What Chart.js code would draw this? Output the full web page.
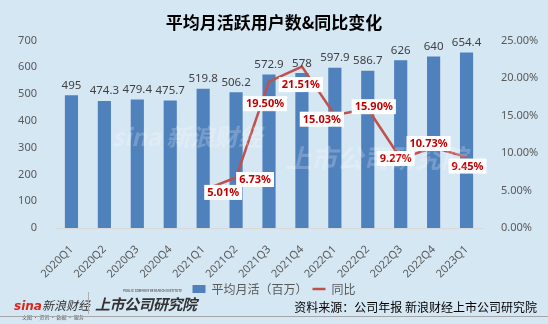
<!DOCTYPE html>
<html>
<head>
<meta charset="utf-8">
<script src="https://cdn.jsdelivr.net/npm/chart.js@4.4.0/dist/chart.umd.min.js"></script>
<style>
  html, body { margin: 0; padding: 0; }
  body { width: 548px; height: 324px; background: #d6e7f4; position: relative; overflow: hidden; font-family: "Noto Sans CJK SC", "Noto Sans", sans-serif; }
  #wrap { position: absolute; left: 0; top: 0; width: 548px; height: 324px; }
  .wm { position: absolute; color: rgba(255,255,255,0.22); font-weight: bold; font-style: italic; pointer-events: none; }
  #foot-line { position: absolute; left: 0; top: 316px; width: 548px; height: 1px; background: #a6a6a6; }
  #src { position: absolute; right: 11px; top: 298px; font-size: 12px; color: #000; }
  #sina { position: absolute; left: 14px; top: 291px; }
  #sina .s { color: #d9261c; font-weight: bold; font-style: italic; font-size: 12px; font-family: "DejaVu Sans", sans-serif; }
  #sina .n { color: #333; font-size: 12px; font-style: italic; }
  #sina .sub { font-size: 5px; color: #555; margin-left: 8px; margin-top: -2px; }
  #sep { position: absolute; left: 88px; top: 292px; width: 1px; height: 22px; background: #b0b0b0; }
  #inst { position: absolute; left: 95px; top: 293px; color: #333; font-weight: bold; font-style: italic; font-size: 15px; letter-spacing: -0.5px; }
  #inst .en { position: absolute; left: 28px; top: -4px; font-size: 3px; letter-spacing: 0; white-space: nowrap; font-style: normal; color: #666; }
</style>
</head>
<body>
<div id="wrap"><canvas id="chart" width="548" height="324"></canvas></div>
<div class="wm" style="left:112px; top:118px; font-size:24px;">sina 新浪财经</div>
<div class="wm" style="left:285px; top:138px; font-size:26px;">上市公司研究院</div>
<div id="sina"><span class="s">sina</span><span class="n">新浪财经</span><div class="sub">文图 · 资讯 · 数据 · 服务</div></div>
<div id="sep"></div>
<div id="inst"><span class="en">PUBLIC COMPANY RESEARCH INSTITUTE</span>上市公司研究院</div>
<div id="src">资料来源：公司年报 新浪财经上市公司研究院</div>
<div id="foot-line"></div>
<script>
const quarters = ['2020Q1', '2020Q2', '2020Q3', '2020Q4', '2021Q1', '2021Q2', '2021Q3', '2021Q4', '2022Q1', '2022Q2', '2022Q3', '2022Q4', '2023Q1'];
const mau = [495, 474.3, 479.4, 475.7, 519.8, 506.2, 572.9, 578, 597.9, 586.7, 626, 640, 654.4];
const yoy = [null, null, null, null, 5.01, 6.73, 19.50, 21.51, 15.03, 15.90, 9.27, 10.73, 9.45];

// where each yoy label box sits, relative to its point
const yoyLabelShift = [null, null, null, null, [20, 2], [19, 2], [-4, 22], [-1, 18], [-13, 4], [6, -2], [-5, 0], [-5, -4], [1, 9]];

const labelPlugin = {
    id: 'labels',
    afterDatasetsDraw(chart) {
        const ctx = chart.ctx;
        ctx.save();
        // bar values
        const bars = chart.getDatasetMeta(0).data;
        ctx.font = '11.5px "Noto Sans", sans-serif';
        ctx.fillStyle = '#404040';
        ctx.textAlign = 'center';
        ctx.textBaseline = 'bottom';
        bars.forEach((b, i) => {
            ctx.fillText(String(mau[i]), b.x, b.y - 4);
        });
        // yoy labels
        const pts = chart.getDatasetMeta(1).data;
        ctx.font = 'bold 11px "Noto Sans", sans-serif';
        ctx.textBaseline = 'middle';
        pts.forEach((p, i) => {
            if (yoy[i] == null) return;
            const txt = yoy[i].toFixed(2) + '%';
            const sh = yoyLabelShift[i];
            const cx = p.x + sh[0], cy = p.y + sh[1];
            const w = ctx.measureText(txt).width + 6;
            const h = 15;
            ctx.fillStyle = '#ffffff';
            ctx.fillRect(cx - w / 2, cy - h / 2, w, h);
            ctx.fillStyle = '#c00000';
            ctx.fillText(txt, cx, cy + 0.5);
        });
        ctx.restore();
    }
};

new Chart(document.getElementById('chart'), {
    data: {
        labels: quarters,
        datasets: [{
            type: 'bar',
            label: '平均月活（百万）',
            data: mau,
            backgroundColor: '#4f81bd',
            barPercentage: 0.4,
            categoryPercentage: 1,
            yAxisID: 'y',
            pointStyle: 'rect',
            order: 2
        }, {
            type: 'line',
            label: '同比',
            data: yoy,
            borderColor: '#c0504d',
            backgroundColor: '#c0504d',
            borderWidth: 2.5,
            pointRadius: 0,
            pointStyle: 'line',
            yAxisID: 'y1',
            order: 1
        }]
    },
    options: {
        responsive: false,
        animation: false,
        layout: { padding: { top: 8, bottom: 19, left: 0, right: 0 } },
        plugins: {
            title: {
                display: true,
                text: '平均月活跃用户数&同比变化',
                color: '#000',
                font: { family: '"Noto Sans CJK SC"', size: 17, weight: 'bold' },
                padding: { top: 4, bottom: 8 }
            },
            legend: {
                position: 'bottom',
                labels: {
                    usePointStyle: true,
                    boxHeight: 8,
                    pointStyleWidth: 13,
                    color: '#595959',
                    font: { family: '"Noto Sans CJK SC"', size: 12 },
                    padding: 5,
                    sort: (a, b) => a.datasetIndex - b.datasetIndex
                }
            },
            tooltip: { enabled: false }
        },
        scales: {
            x: {
                grid: { display: false },
                border: { color: '#d9d9d9' },
                ticks: {
                    color: '#595959',
                    font: { family: '"Noto Sans"', size: 11 },
                    maxRotation: 45, minRotation: 45, autoSkip: false,
                    padding: 7
                },
                afterFit(s) { s.height = 50; }
            },
            y: {
                position: 'left',
                min: 0, max: 700,
                grid: { display: false },
                border: { display: false },
                ticks: { stepSize: 100, color: '#595959', font: { family: '"Noto Sans"', size: 11 }, padding: 10 },
                afterFit(s) { s.width = 55; }
            },
            y1: {
                position: 'right',
                min: 0, max: 25,
                grid: { display: false },
                border: { display: false },
                ticks: {
                    stepSize: 5, color: '#595959', font: { family: '"Noto Sans"', size: 11 }, padding: 10,
                    callback: v => v.toFixed(2) + '%'
                },
                afterFit(s) { s.width = 65; }
            }
        }
    },
    plugins: [labelPlugin]
});
</script>
</body>
</html>
